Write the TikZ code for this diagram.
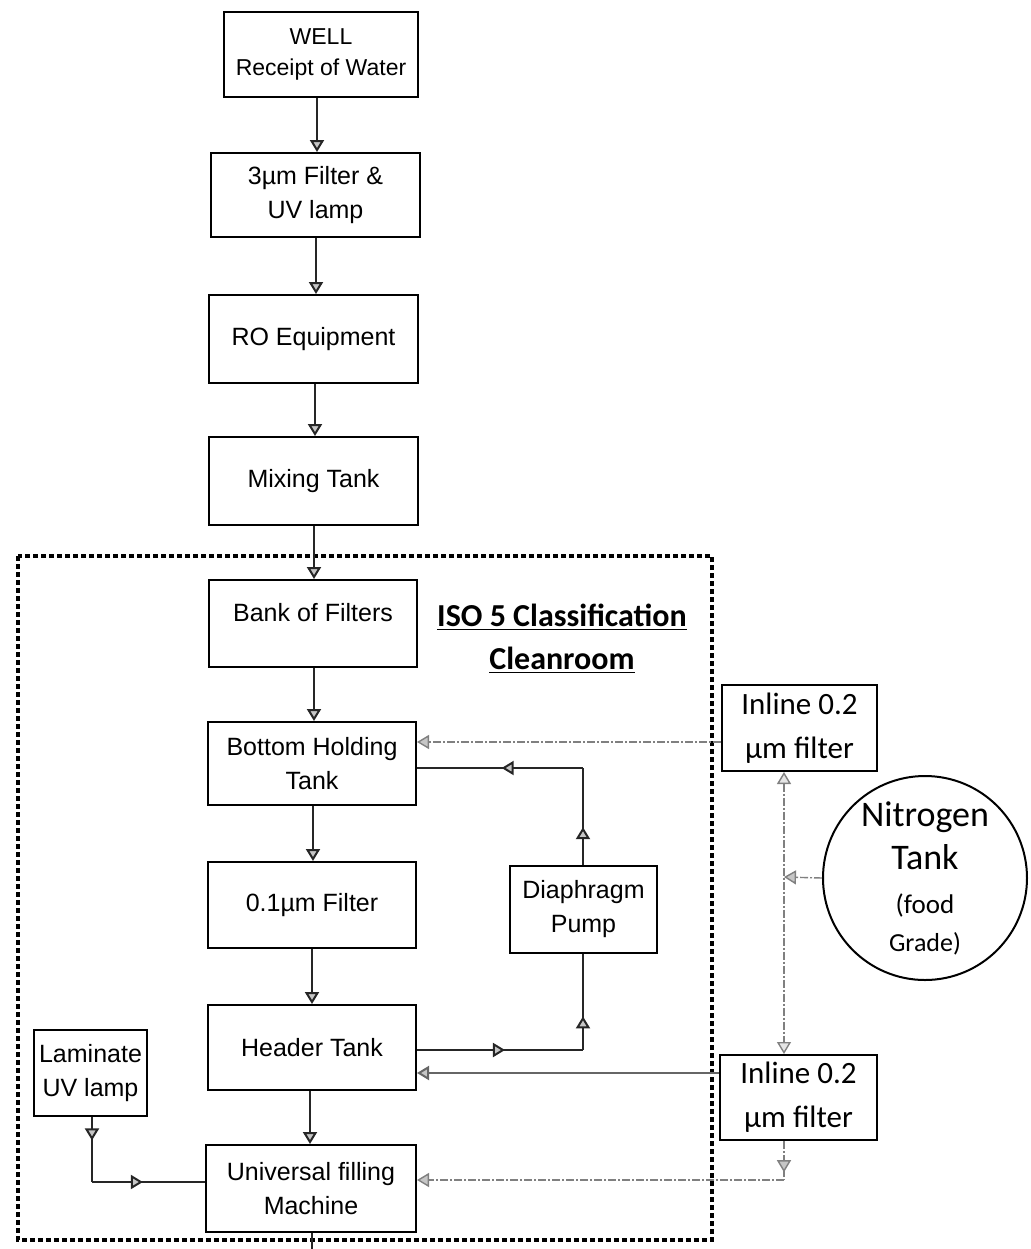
\documentclass[tikz,border=0pt]{standalone}
\usepackage{fontspec}
\setmainfont{Liberation Sans}
\newfontfamily\calib{Carlito}
\usetikzlibrary{arrows.meta,decorations.markings,calc}
\tikzset{
 box/.style={draw, line width=1pt, inner sep=0pt, align=center, font=\fontsize{12.5}{17}\selectfont},
 cbox/.style={draw, line width=1pt, inner sep=0pt, align=center, font=\calib\fontsize{15.5}{22}\selectfont},
 tip/.style={-{Triangle[length=6pt,width=7pt,fill=gray!45]}},
 twotip/.style={{Triangle[length=6pt,width=7pt,fill=gray!20]}-{Triangle[length=6pt,width=7pt,fill=gray!20]}},
 solidline/.style={draw=black!85, line width=1pt},
 greyline/.style={draw=gray, line width=0.7pt, dash pattern=on 4pt off 1pt on 1pt off 1pt},
 midtip/.style={postaction={decorate}, decoration={markings, mark=at position #1 with {\arrow{Triangle[length=6pt,width=7pt,fill=gray!45]}}}},
 cleanroom/.style={draw, line width=2.4pt, dash pattern=on 2.4pt off 1.6pt},
}
\begin{document}
\begin{tikzpicture}[x=0.5pt,y=-0.5pt]
\useasboundingbox (0,0) rectangle (1030,1249);
% clean room boundary
\draw[cleanroom] (18,556) rectangle (712,1240);
% boxes
\node[box, minimum width=97pt, minimum height=42.5pt, font=\fontsize{11.5}{15.5}\selectfont] (well) at (321,54.5) {WELL\\Receipt of Water};
\node[box, minimum width=104.5pt, minimum height=42pt] (uv) at (315.5,195) {3µm Filter \&\\UV lamp};
\node[box, minimum width=104.5pt, minimum height=44pt] (ro) at (313.5,339) {RO Equipment};
\node[box, minimum width=104.5pt, minimum height=44pt] (mix) at (313.5,481) {Mixing Tank};
\node[box, minimum width=104pt, minimum height=43.5pt] (bank) at (313,623.5) {};
\node[font=\fontsize{12.5}{17}\selectfont] (bankt) at (313,613) {Bank of Filters};
\node[box, minimum width=104pt, minimum height=41.5pt] (bht) at (312,763.5) {Bottom Holding\\Tank};
\node[box, minimum width=104pt, minimum height=43pt] (f01) at (312,905) {0.1µm Filter};
\node[box, minimum width=73.5pt, minimum height=43.5pt] (dp) at (583.5,909.5) {Diaphragm\\Pump};
\node[box, minimum width=104pt, minimum height=42.5pt] (ht) at (312,1047.5) {Header Tank};
\node[box, minimum width=105pt, minimum height=43.5pt] (ufm) at (311,1188.5) {Universal filling\\Machine};
\node[box, minimum width=56.5pt, minimum height=43pt] (lam) at (90.5,1073) {Laminate\\UV lamp};
\node[cbox, minimum width=77.5pt, minimum height=43pt] (in1) at (799.5,728) {Inline 0.2\\µm filter};
\node[cbox, minimum width=78.5pt, minimum height=42.5pt] (in2) at (798.5,1097.5) {Inline 0.2\\µm filter};
\node[circle, draw, line width=1pt, minimum size=102pt, inner sep=0pt, align=center, font=\calib\fontsize{18}{21.5}\selectfont] (n2) at (925,878)
 {Nitrogen\\Tank\\[0.5pt]{\fontsize{13.5}{17}\selectfont (food}\\[-2.5pt]{\fontsize{13}{17}\selectfont Grade)}};
\node[font=\calib\bfseries\fontsize{16}{18}\selectfont] (iso) at (562,617) {\underline{ISO 5 Classification}};
\node[font=\calib\bfseries\fontsize{16}{18}\selectfont] (clr) at (562,660) {\underline{Cleanroom}};
% main vertical flow
\draw[solidline, tip] (well.south -| 317,0) -- (uv.north -| 317,0);
\draw[solidline, tip] (uv.south -| 316,0) -- (ro.north -| 316,0);
\draw[solidline, tip] (ro.south -| 315,0) -- (mix.north -| 315,0);
\draw[solidline, tip] (mix.south -| 314,0) -- (bank.north -| 314,0);
\draw[solidline, tip] (bank.south -| 314,0) -- (bht.north -| 314,0);
\draw[solidline, tip] (bht.south -| 313,0) -- (f01.north -| 313,0);
\draw[solidline, tip] (f01.south -| 312,0) -- (ht.north -| 312,0);
\draw[solidline, tip] (ht.south -| 310,0) -- (ufm.north -| 310,0);
\coordinate (ufmout) at (312,1249);
\draw[solidline] (ufm.south -| 312,0) -- (ufmout);
% diaphragm pump loop
\coordinate (dpt) at (583,768);
\coordinate (dpb) at (583,1050);
\draw[solidline, midtip=0.39] (dp.north -| dpt) -- (dpt);
\draw[solidline, midtip=0.49] (dpt) -- (bht.east |- dpt);
\draw[solidline, midtip=0.53] (ht.east |- dpb) -- (dpb);
\draw[solidline, midtip=0.35] (dpb) -- (dp.south -| dpb);
% inline filters
\draw[greyline, tip] (in1.west |- 0,742) -- (bht.east |- 0,742);
\draw[solidline, draw=gray!80!black, tip] (in2.west |- 0,1073) -- (ht.east |- 0,1073);
\coordinate (vx) at (784,877);
\draw[greyline, twotip] (in1.south -| vx) -- (in2.north -| vx);
\draw[greyline, tip] (n2.west) -- (vx);
\coordinate (in2c) at (784,1180);
\draw[greyline, midtip=0.8] (in2.south -| in2c) -- (in2c);
\draw[greyline, tip] (in2c) -- (ufm.east |- in2c);
% laminate UV lamp
\coordinate (lc) at (92,1182);
\draw[solidline, midtip=0.36] (lam.south -| lc) -- (lc);
\draw[solidline, midtip=0.45] (lc) -- (ufm.west |- lc);
\end{tikzpicture}
\end{document}
